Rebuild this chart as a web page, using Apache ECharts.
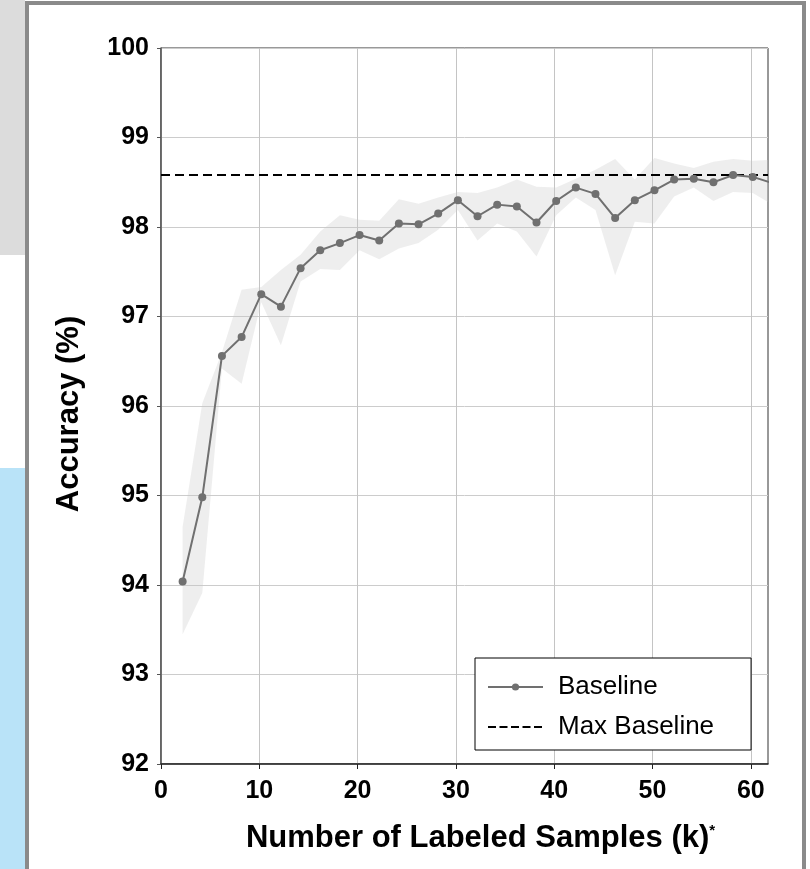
<!DOCTYPE html>
<html>
<head>
<meta charset="utf-8">
<script src="https://cdn.jsdelivr.net/npm/echarts@6/dist/echarts.min.js"></script>
<style>
  html, body { margin: 0; padding: 0; width: 810px; height: 869px; overflow: hidden; background: #fff; }
  .strip { position: absolute; left: 0; width: 25px; }
  #frame { position: absolute; left: 25px; top: 1px; width: 773px; height: 868px; border: 4px solid #8a8a8a; border-bottom: none; background: #fff; }
  #chart { position: absolute; left: 0; top: 0; width: 810px; height: 869px; }
</style>
</head>
<body>
<div class="strip" style="top:0;height:255px;background:#dcdcdc"></div>
<div class="strip" style="top:468px;height:401px;background:#b9e3f8"></div>
<div id="frame"></div>
<div id="chart"></div>
<script>
// 标注样本数 (k)
const samples = [2.2, 4.2, 6.2, 8.2, 10.2, 12.2, 14.2, 16.2, 18.2, 20.2, 22.2, 24.2, 26.2, 28.2, 30.2,
  32.2, 34.2, 36.2, 38.2, 40.2, 42.2, 44.2, 46.2, 48.2, 50.2, 52.2, 54.2, 56.2, 58.2, 60.2, 62.2]
// 平均准确率
const baseline = [94.04, 94.98, 96.56, 96.77, 97.25, 97.11, 97.54, 97.74, 97.82, 97.91, 97.85, 98.04, 98.03, 98.15, 98.30,
  98.12, 98.25, 98.23, 98.05, 98.29, 98.44, 98.37, 98.10, 98.30, 98.41, 98.53, 98.54, 98.50, 98.58, 98.56, 98.49]
// 阴影带上下边界
const upper = [94.65, 96.03, 96.60, 97.30, 97.33, 97.52, 97.69, 97.95, 98.13, 98.08, 98.07, 98.31, 98.26, 98.33, 98.39,
  98.38, 98.44, 98.53, 98.45, 98.44, 98.54, 98.64, 98.76, 98.53, 98.77, 98.71, 98.66, 98.73, 98.76, 98.74, 98.75]
const lower = [93.45, 93.91, 96.42, 96.25, 97.16, 96.68, 97.39, 97.53, 97.52, 97.74, 97.64, 97.76, 97.82, 97.97, 98.19,
  97.85, 98.04, 97.95, 97.67, 98.13, 98.33, 98.19, 97.46, 98.06, 98.04, 98.34, 98.44, 98.29, 98.39, 98.38, 98.25]
const maxBaseline = 98.58
const xTicks = [0, 10, 20, 30, 40, 50, 60]

const font = "'Liberation Sans', Arial, Helvetica, sans-serif"
const xMax = 61.75

const chart = echarts.init(document.getElementById('chart'))

const option = {
  animation: false,
  textStyle: { fontFamily: font },
  grid: {
    left: 161, top: 48, right: 42, bottom: 105,
    show: true, borderColor: '#333', borderWidth: 1
  },
  legend: {
    data: [
      { name: 'Baseline' },
      {
        name: 'Max Baseline',
        itemStyle: { color: 'rgba(0,0,0,0)', borderWidth: 0, opacity: 0 },
        lineStyle: { type: [8, 3.5], width: 2, color: '#000' }
      }
    ],
    orient: 'vertical',
    left: 475, top: 658,
    padding: [14, 37, 8, 12],
    itemGap: 10,
    itemWidth: 55,
    itemHeight: 9,
    backgroundColor: '#fff',
    borderColor: '#000',
    borderWidth: 1,
    textStyle: { fontSize: 26, color: '#000', fontFamily: font, lineHeight: 30, padding: [0, 0, 0, 10] }
  },
  xAxis: {
    type: 'value',
    min: 0, max: xMax,
    interval: 10,
    name: '{a|Number of Labeled Samples (k)}{s|*}',
    nameLocation: 'middle',
    nameGap: 59,
    nameTextStyle: {
      padding: [0, 0, 0, 32],
      rich: {
        a: { fontSize: 31, fontWeight: 'bold', color: '#000', fontFamily: font },
        s: { fontSize: 15, fontWeight: 'bold', color: '#000', fontFamily: font, verticalAlign: 'top', lineHeight: 15 }
      }
    },
    axisLine: { show: true, lineStyle: { color: '#222', width: 1.5 } },
    axisTick: { show: true, length: 5, customValues: xTicks, lineStyle: { color: '#222' } },
    axisLabel: { customValues: xTicks, fontSize: 25, fontWeight: 'bold', color: '#000', margin: 15 },
    splitLine: { show: true, lineStyle: { color: '#c4c4c4' } }
  },
  yAxis: {
    type: 'value',
    min: 92, max: 100,
    interval: 1,
    name: 'Accuracy (%)',
    nameLocation: 'middle',
    nameRotate: 90,
    nameGap: 76,
    nameTextStyle: { fontSize: 31, fontWeight: 'bold', color: '#000', padding: [0, 16, 0, 0] },
    axisLine: { show: true, lineStyle: { color: '#555', width: 1.5 } },
    axisTick: { show: true, length: 4, lineStyle: { color: '#555' } },
    axisLabel: { fontSize: 25, fontWeight: 'bold', color: '#000', margin: 12 },
    splitLine: { show: true, lineStyle: { color: '#cccccc' } }
  },
  series: [
    {
      name: 'band',
      type: 'custom',
      clip: true,
      z: 1,
      silent: true,
      data: samples.map((x, i) => [x, upper[i], lower[i]]),
      encode: { x: 0, y: [1, 2] },
      renderItem: (params, api) => {
        if (params.dataIndex !== 0) return
        const pts = []
        for (let i = 0; i < samples.length; i++) pts.push(api.coord([samples[i], upper[i]]))
        for (let i = samples.length - 1; i >= 0; i--) pts.push(api.coord([samples[i], lower[i]]))
        return {
          type: 'polygon',
          shape: { points: pts },
          style: { fill: 'rgba(200,200,200,0.3)' }
        }
      }
    },
    {
      name: 'Max Baseline',
      type: 'line',
      z: 3,
      symbol: 'none',
      data: [[0, maxBaseline], [xMax, maxBaseline]],
      lineStyle: { color: '#000', width: 2, type: [9, 5] },
      itemStyle: { color: '#000' }
    },
    {
      name: 'Baseline',
      type: 'line',
      z: 4,
      symbol: 'circle',
      symbolSize: 8,
      data: samples.map((x, i) => [x, baseline[i]]),
      lineStyle: { color: '#707070', width: 2 },
      itemStyle: { color: '#707070' }
    }
  ]
}

chart.setOption(option)
</script>
</body>
</html>
